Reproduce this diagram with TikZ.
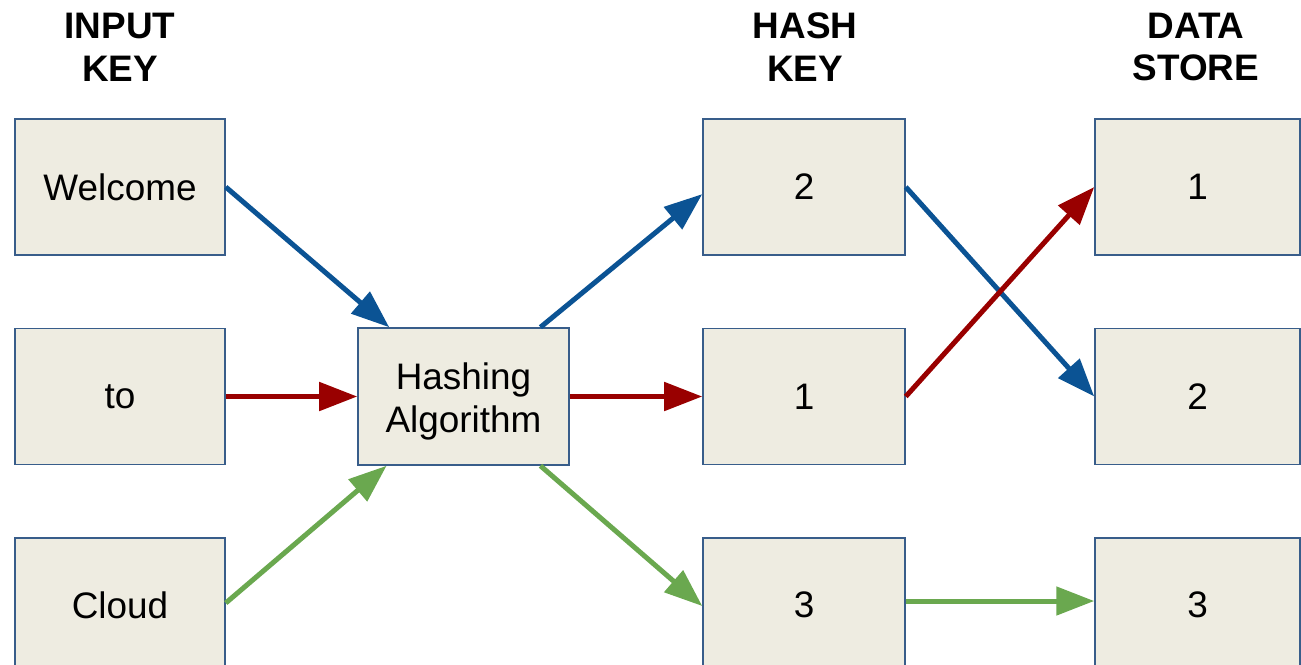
\documentclass[tikz,border=0pt]{standalone}
\usepackage{fontspec}
\setmainfont{Liberation Sans}
\usetikzlibrary{arrows.meta}

\definecolor{boxfill}{HTML}{EEECE1}
\definecolor{boxline}{HTML}{385D8A}
\definecolor{flowblue}{HTML}{0B5394}
\definecolor{flowred}{HTML}{990000}
\definecolor{flowgreen}{HTML}{6AA84F}

\begin{document}
\begin{tikzpicture}[x=0.02cm, y=-0.02cm,
		keybox/.style={draw=boxline, fill=boxfill, line width=0.9pt, inner sep=0pt,
			minimum height=2.72cm, align=center, font=\fontsize{21}{24.2}\selectfont},
		coltitle/.style={align=center, font=\fontsize{21}{24.4}\selectfont\bfseries},
		flow/.style={line width=0.1cm, -{Triangle[length=0.76cm, width=0.56cm]}}]

		\useasboundingbox (0, 0) rectangle (1301, 664);

		% titres des colonnes
		\node[coltitle] (tinput) at (120, 47) {INPUT\\KEY};
		\node[coltitle] (thash) at (805, 47) {HASH\\KEY};
		\node[coltitle] (tstore) at (1196, 47) {DATA\\STORE};

		% cles d'entree
		\node[keybox, minimum width=4.2cm] (welcome) at (120, 187) {Welcome};
		\node[keybox, minimum width=4.2cm] (to) at (120, 396.5) {to};
		\node[keybox, minimum width=4.2cm] (cloud) at (120, 606) {\raisebox{1.5pt}{Cloud}};

		% algorithme
		\node[keybox, minimum width=4.22cm, minimum height=2.74cm] (algo) at (463.5, 396.5)
			{\raisebox{-3.4pt}[\height][\depth]{\begin{tabular}{@{}c@{}}Hashing\\Algorithm\end{tabular}}};

		% cles de hachage
		\node[keybox, minimum width=4.04cm] (hkey2) at (804, 187) {2};
		\node[keybox, minimum width=4.04cm] (hkey1) at (804, 396.5) {1};
		\node[keybox, minimum width=4.04cm] (hkey3) at (804, 606) {\raisebox{1.5pt}{3}};

		% stockage
		\node[keybox, minimum width=4.1cm] (store1) at (1197.5, 187) {1};
		\node[keybox, minimum width=4.1cm] (store2) at (1197.5, 396.5) {2};
		\node[keybox, minimum width=4.1cm] (store3) at (1197.5, 606) {\raisebox{1.5pt}{3}};

		% vers l'algorithme
		\draw[flow, flowblue] (welcome.east) -- (algo.137.8);
		\draw[flow, flowred] (to.east) -- (algo.west);
		\draw[flow, flowgreen] ([yshift=0.06cm]cloud.east) -- (algo.222.2);

		% vers les cles de hachage
		\draw[flow, flowblue] (algo.42.5) -- (hkey2.184.5);
		\draw[flow, flowred] (algo.east) -- (hkey1.west);
		\draw[flow, flowgreen] (algo.-42.5) -- (hkey3.west);

		% vers le stockage
		\draw[flow, flowblue] (hkey2.east) -- (store2.west);
		\draw[flow, flowred] (hkey1.east) -- (store1.west);
		\draw[flow, flowgreen] ([yshift=0.1cm]hkey3.east) -- ([yshift=0.1cm]store3.west);

\end{tikzpicture}
\end{document}
